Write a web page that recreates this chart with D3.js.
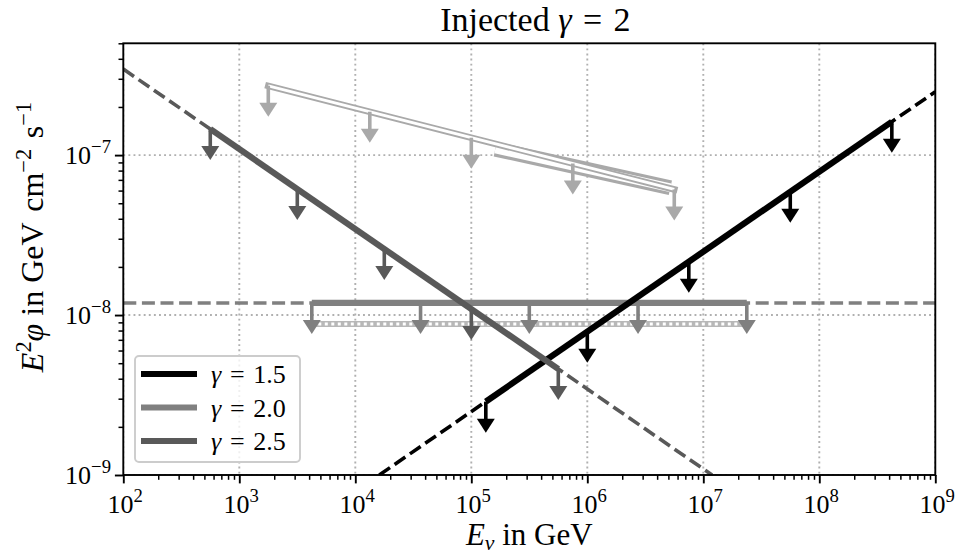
<!DOCTYPE html>
<html><head><meta charset="utf-8">
<script src="https://cdn.jsdelivr.net/npm/d3@7"></script>
<style>body{margin:0;background:#fff} text{font-family:"Liberation Serif","DejaVu Serif",serif;fill:#000}</style>
</head><body><svg id="c" width="961" height="557"></svg>
<script>
// ---------- data ----------
const xDomain = [1e2, 1e9];
const yDomain = [1e-9, 5e-7];
const xTickExps = [2, 3, 4, 5, 6, 7, 8, 9];
const yTickExps = [-9, -8, -7];

// gamma = 1.5 (black)
const g15DashE = [1.61e4, 1e9];
const g15DashV = [1e-9, 2.49e-7];
const g15SolidE = [1.334e5, 4.22e8];
const g15SolidV = [2.875e-9, 1.617e-7];
const g15ArrowE = [1.334e5, 1e6, 7.5e6, 5.62e7, 4.22e8];
const g15ArrowV = [2.875e-9, 7.87e-9, 2.157e-8, 5.90e-8, 1.617e-7];

// gamma = 2.0 (gray)
const g20DashE = [1e2, 1e9];
const g20DashV = [1.19e-8, 1.19e-8];
const g20SolidE = [4217, 2.371e7];
const g20SolidV = [1.19e-8, 1.19e-8];
const g20ArrowE = [4217, 36517, 316228, 2.738e6, 2.371e7];
const g20ArrowV = [1.19e-8, 1.19e-8, 1.19e-8, 1.19e-8, 1.19e-8];

// gamma = 2.5 (dark gray)
const g25DashE = [1e2, 1.19e7];
const g25DashV = [3.45e-7, 1.0e-9];
const g25SolidE = [562, 562341];
const g25SolidV = [1.455e-7, 4.60e-9];
const g25ArrowE = [562, 3162, 17783, 1e5, 562341];
const g25ArrowV = [1.455e-7, 6.13e-8, 2.587e-8, 1.091e-8, 4.60e-9];

// light grey (injected) items
const injFlatE = [4217, 2.371e7];
const injFlatV = [8.8e-9, 8.8e-9];
const injLineE = [1778, 5.62e6];
const injLineV = [2.71e-7, 6.10e-8];
const injBandE = [1.61e5, 5.2e6];
const injBandV = [1.09e-7, 6.25e-8];
const injArrowE = [1778, 13335, 1e5, 7.5e5, 5.62e6];
const injArrowV = [2.71e-7, 1.867e-7, 1.286e-7, 8.86e-8, 6.10e-8];

const legendLabels = ["1.5", "2.0", "2.5"];
const colors = {g15: "#000000", g20: "#808080", g25: "#595959", inj: "#a9a9a9", injFlat: "#b8b8b8", grid: "#b0b0b0"};

// ---------- layout ----------
const L = 123.3, R = 935.3, T = 43.3, B = 475;
const svg = d3.select("#c");
const x = d3.scaleLog().domain(xDomain).range([L, R]);
const y = d3.scaleLog().domain(yDomain).range([B, T]);

svg.append("clipPath").attr("id", "clip").append("rect")
  .attr("x", L).attr("y", T).attr("width", R - L).attr("height", B - T);

// grid
const xMajor = xTickExps.map(e => Math.pow(10, e));
const yMajor = yTickExps.map(e => Math.pow(10, e));
const grid = svg.append("g").attr("clip-path", "url(#clip)");
grid.selectAll(".gx").data(xMajor).join("line")
  .attr("x1", d => x(d)).attr("x2", d => x(d)).attr("y1", T).attr("y2", B)
  .attr("stroke", colors.grid).attr("stroke-width", 1.9).attr("stroke-dasharray", "1.9,3.2");
grid.selectAll(".gy").data(yMajor).join("line")
  .attr("y1", d => y(d)).attr("y2", d => y(d)).attr("x1", L).attr("x2", R)
  .attr("stroke", colors.grid).attr("stroke-width", 1.9).attr("stroke-dasharray", "1.9,3.2");

const plot = svg.append("g").attr("clip-path", "url(#clip)");
const line = d3.line().x(d => x(d[0])).y(d => y(d[1]));
const zip = (a, b) => a.map((v, i) => [v, b[i]]);

function path(E, V, color, w, dash, cap) {
  plot.append("path").attr("d", line(zip(E, V))).attr("fill", "none")
    .attr("stroke", color).attr("stroke-width", w)
    .attr("stroke-dasharray", dash || null)
    .attr("stroke-linecap", cap || "butt");
}
function arrows(E, V, color) {
  const len = 31, hh = 14, hw = 9;
  E.forEach((e, i) => {
    const cx = x(e), cy = y(V[i]);
    plot.append("line").attr("x1", cx).attr("x2", cx).attr("y1", cy).attr("y2", cy + len - hh + 1)
      .attr("stroke", color).attr("stroke-width", 3.6);
    plot.append("path")
      .attr("d", `M${cx - hw},${cy + len - hh}L${cx + hw},${cy + len - hh}L${cx},${cy + len}Z`)
      .attr("fill", color);
  });
}

// injected light grey
path(injFlatE, injFlatV, colors.injFlat, 6, null, "butt");
path(injFlatE, injFlatV, "#ffffff", 3, "3,3.5", "butt");
path(injBandE, injBandV, colors.inj, 15, null, "butt");
path(injBandE, injBandV, "#ffffff", 8.5, null, "butt");
path(injLineE, injLineV, colors.inj, 6.5, null, "square");
path(injLineE, injLineV, "#ffffff", 2.8, null, "butt");
arrows(injArrowE, injArrowV, colors.inj);

// gamma 2.0
path(g20DashE, g20DashV, colors.g20, 3.6, "13,5.6");
path(g20SolidE, g20SolidV, colors.g20, 6.2);
arrows(g20ArrowE, g20ArrowV, colors.g20);

// gamma 1.5
path(g15DashE, g15DashV, colors.g15, 3.6, "13,5.6");
path(g15SolidE, g15SolidV, colors.g15, 6.2);
arrows(g15ArrowE, g15ArrowV, colors.g15);

// gamma 2.5
path(g25DashE, g25DashV, colors.g25, 3.6, "13,5.6");
path(g25SolidE, g25SolidV, colors.g25, 6.2);
arrows(g25ArrowE, g25ArrowV, colors.g25);

// ---------- axes ----------
const xMinor = [], yMinor = [];
for (let e = 2; e < 9; e++) for (let m = 2; m <= 9; m++) xMinor.push(m * Math.pow(10, e));
for (let e = -9; e < -6; e++) for (let m = 2; m <= 9; m++) { const v = m * Math.pow(10, e); if (v <= 5e-7) yMinor.push(v); }

function styleAxis(g) { g.select(".domain").remove(); g.selectAll("line").attr("stroke", "#000").attr("stroke-width", 1.9); }
svg.append("g").attr("transform", `translate(0,${B})`)
  .call(d3.axisBottom(x).tickValues(xMajor).tickSize(8.4).tickFormat("")).call(styleAxis);
svg.append("g").attr("transform", `translate(0,${B})`)
  .call(d3.axisBottom(x).tickValues(xMinor).tickSize(4.8).tickFormat("")).call(g => { styleAxis(g); g.selectAll("line").attr("stroke-width", 1.5); });
svg.append("g").attr("transform", `translate(${L},0)`)
  .call(d3.axisLeft(y).tickValues(yMajor).tickSize(8.4).tickFormat("")).call(styleAxis);
svg.append("g").attr("transform", `translate(${L},0)`)
  .call(d3.axisLeft(y).tickValues(yMinor).tickSize(4.8).tickFormat("")).call(g => { styleAxis(g); g.selectAll("line").attr("stroke-width", 1.5); });

svg.append("rect").attr("x", L).attr("y", T).attr("width", R - L).attr("height", B - T)
  .attr("fill", "none").attr("stroke", "#000").attr("stroke-width", 1.9);

// tick labels
const tfs = 26;
xTickExps.forEach(e => {
  const t = svg.append("text").attr("x", x(Math.pow(10, e)) + 2).attr("y", 513)
    .attr("text-anchor", "middle").attr("font-size", tfs);
  t.append("tspan").text("10");
  t.append("tspan").attr("font-size", tfs * 0.72).attr("dy", -11).text(String(e));
});
yTickExps.forEach(e => {
  const t = svg.append("text").attr("x", 111).attr("y", y(Math.pow(10, e)) + 9)
    .attr("text-anchor", "end").attr("font-size", tfs);
  t.append("tspan").text("10");
  t.append("tspan").attr("font-size", tfs * 0.72).attr("dy", -11).text("\u2212" + String(-e));
});

// axis labels
const lfs = 31;
const xl = svg.append("text").attr("x", (L + R) / 2).attr("y", 545).attr("text-anchor", "middle").attr("font-size", lfs);
xl.append("tspan").attr("font-style", "italic").text("E");
xl.append("tspan").attr("font-style", "italic").attr("font-size", lfs * 0.7).attr("dy", 5).text("\u03BD");
xl.append("tspan").attr("dy", -5).text(" in GeV");

const yl = svg.append("text").attr("transform", `translate(43,${237}) rotate(-90)`)
  .attr("text-anchor", "middle").attr("font-size", 32);
yl.append("tspan").attr("font-style", "italic").text("E");
yl.append("tspan").attr("font-size", 32 * 0.7).attr("dy", -12).text("2");
yl.append("tspan").attr("font-style", "italic").attr("dy", 12).text("\u03C6");
yl.append("tspan").text(" in GeV\u2004cm");
yl.append("tspan").attr("font-size", 32 * 0.7).attr("dy", -12).text("\u22122");
yl.append("tspan").attr("dy", 12).text("\u2004s");
yl.append("tspan").attr("font-size", 32 * 0.7).attr("dy", -12).text("\u22121");

// title
const tt = svg.append("text").attr("x", (L + R) / 2 + 6).attr("y", 31).attr("text-anchor", "middle").attr("font-size", 34);
tt.append("tspan").text("Injected ");
tt.append("tspan").attr("font-style", "italic").text("\u03B3");
tt.append("tspan").text("\u2004=\u20042");

// legend
const lg = svg.append("g");
lg.append("rect").attr("x", 135).attr("y", 356).attr("width", 165).attr("height", 106)
  .attr("rx", 4).attr("fill", "#fff").attr("fill-opacity", 0.8).attr("stroke", "#cccccc").attr("stroke-width", 1.9);
const legCols = [colors.g15, colors.g20, colors.g25];
legendLabels.forEach((lab, i) => {
  const yy = 374 + i * 33.5;
  lg.append("line").attr("x1", 141).attr("x2", 197).attr("y1", yy).attr("y2", yy)
    .attr("stroke", legCols[i]).attr("stroke-width", 6.2);
  const t = lg.append("text").attr("x", 211).attr("y", yy + 9).attr("font-size", 26);
  t.append("tspan").attr("font-style", "italic").text("\u03B3");
  t.append("tspan").text("\u2004=\u2004" + lab);
});
</script></body></html>
